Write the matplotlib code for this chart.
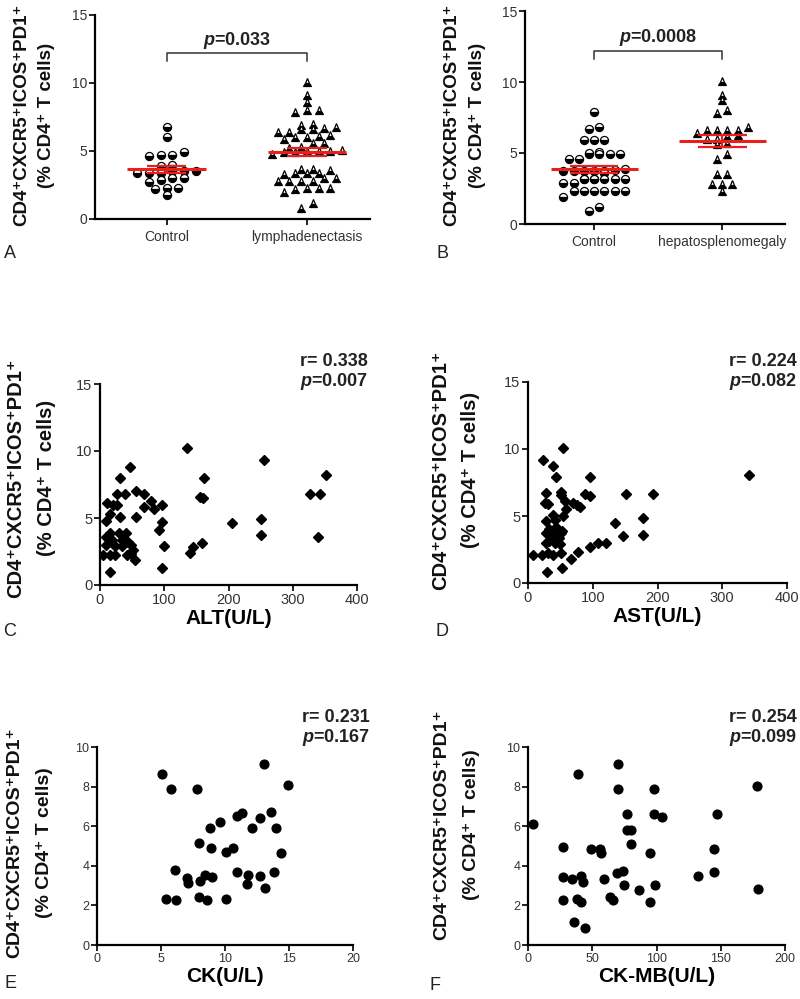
import numpy as np
import matplotlib
matplotlib.use("Agg")
import matplotlib.pyplot as plt
from matplotlib import font_manager

# ---- data ----
# A: column scatter, lymphadenectasis
ctrlA = [6.8, 6.0, 4.9, 4.7, 4.6, 4.7, 3.9, 4.0, 3.4, 3.5, 3.4, 3.5, 3.4, 3.5,
         3.0, 2.9, 3.0, 2.7, 2.3, 2.2, 2.3, 1.8]
lymphA = [10.1, 9.1, 8.6, 8.0, 7.9, 8.0, 7.0, 6.6, 6.4, 6.9, 6.7, 6.6, 6.8, 6.4,
          6.2, 6.0, 5.9, 6.0, 6.1, 5.6, 5.6, 5.3, 5.2, 5.0, 4.9, 5.0, 5.1, 5.0,
          4.9, 4.8, 3.7, 3.7, 3.6, 3.4, 3.4, 3.4, 3.3, 3.0, 3.0, 2.8, 2.8, 2.8,
          2.8, 2.3, 2.3, 2.2, 2.3, 2.0, 1.2, 0.8]
groupsA = ["Control", "lymphadenectasis"]

# B: column scatter, hepatosplenomegaly
ctrlB = [7.9, 6.7, 6.8, 5.9, 5.9, 5.9, 5.1, 4.9, 4.9, 4.9, 4.9, 5.0, 4.6, 4.6,
         3.9, 3.7, 3.7, 3.8, 3.7, 3.7, 3.6, 3.7, 3.2, 3.2, 3.2, 3.2, 3.2, 3.2,
         3.2, 2.9, 2.9, 2.3, 2.3, 2.3, 2.3, 2.3, 2.3, 1.9, 1.2, 0.9]
hepB = [10.1, 9.1, 8.7, 8.0, 7.8, 6.8, 6.6, 6.6, 6.6, 6.6, 6.4, 6.3, 6.2, 6.0,
        6.0, 5.7, 5.6, 4.9, 4.6, 3.5, 3.5, 2.8, 2.8, 2.8, 2.3]
groupsB = ["Control", "hepatosplenomegaly"]
pvalA = "0.033"
pvalB = "0.0008"

# C: ALT
altX = [135, 47, 31, 351, 255, 162, 156, 161, 327, 343, 26, 39, 56, 69, 80, 69,
        84, 97, 11, 21, 26, 56, 31, 16, 9, 96, 92, 206, 250, 250, 340, 159, 145,
        140, 100, 96, 16, 10, 16, 18, 10, 23, 5, 16, 23, 34, 40, 44, 49, 42, 49,
        55, 51, 34, 30]
altY = [10.2, 8.8, 8.0, 8.2, 9.3, 8.0, 6.6, 6.5, 6.8, 6.8, 6.8, 6.8, 7.0, 6.8,
        6.3, 5.8, 5.7, 6.0, 6.1, 6.0, 6.0, 5.1, 5.1, 5.3, 4.8, 4.7, 4.1, 4.6,
        4.95, 3.7, 3.55, 3.1, 2.8, 2.4, 2.9, 1.25, 1.0, 3.6, 3.85, 3.35, 3.0,
        2.9, 2.25, 2.25, 2.25, 3.35, 3.85, 3.2, 3.0, 2.25, 2.35, 1.9, 2.6, 2.9,
        3.9]
statC = ("0.338", "0.007")

# D: AST
astX = [341, 54, 23, 39, 44, 96, 28, 51, 51, 152, 193, 88, 96, 57, 26, 31, 69,
        75, 80, 59, 39, 54, 28, 41, 134, 177, 177, 146, 121, 108, 96, 77, 67,
        53, 30, 8, 21, 28, 33, 36, 44, 48, 53, 28, 33, 41, 49, 31, 39, 51, 39,
        44, 51]
astY = [8.06, 10.1, 9.2, 8.7, 7.9, 7.9, 6.75, 6.8, 6.6, 6.65, 6.65, 6.65, 6.5,
        6.1, 6.0, 5.9, 6.0, 5.8, 5.65, 5.5, 5.1, 5.0, 4.65, 4.7, 4.5, 4.85, 3.6,
        3.5, 3.0, 3.0, 2.7, 2.35, 1.8, 1.1, 0.8, 2.1, 2.1, 3.7, 4.0, 3.5, 3.7,
        3.35, 3.85, 3.0, 3.1, 3.0, 2.9, 2.25, 2.1, 2.25, 3.2, 4.2, 3.7]
statD = ("0.224", "0.082")

# E: CK
ckX = [5.06, 5.77, 7.84, 13.06, 14.9, 13.6, 10.9, 11.3, 12.7, 9.6, 8.8, 12.1,
       14.0, 8.0, 8.9, 10.1, 10.6, 14.4, 6.1, 10.95, 13.85, 7.0, 8.4, 8.95,
       11.8, 12.7, 7.1, 8.05, 11.7, 13.1, 5.4, 6.2, 8.0, 8.6, 10.05]
ckY = [8.65, 7.88, 7.9, 9.16, 8.1, 6.7, 6.5, 6.65, 6.4, 6.2, 5.9, 5.9, 5.9,
       5.15, 4.9, 4.7, 4.9, 4.65, 3.8, 3.7, 3.7, 3.4, 3.55, 3.45, 3.55, 3.5,
       3.15, 3.25, 3.1, 2.9, 2.3, 2.25, 2.4, 2.25, 2.3]
statE = ("0.231", "0.167")

# F: CK-MB
ckmbX = [3.9, 27, 27, 34, 27, 38, 41, 41, 43, 36, 44, 39, 49, 56, 57, 59, 64,
         66, 70, 70, 69, 74, 75, 77, 77, 80, 80, 86, 95, 95, 98, 98, 99, 104,
         132, 145, 145, 147, 178, 179]
ckmbY = [6.13, 4.96, 3.45, 3.35, 2.27, 2.3, 2.17, 3.47, 3.18, 1.16, 0.87, 8.66,
         4.86, 4.86, 4.66, 3.35, 2.4, 2.27, 9.16, 7.88, 3.65, 3.73, 3.03, 6.64,
         5.83, 5.83, 5.08, 2.77, 4.66, 2.17, 7.88, 6.64, 3.03, 6.47, 3.48, 4.86,
         3.68, 6.64, 8.05, 2.84]
statF = ("0.254", "0.099")

line1 = "CD4\u207aCXCR5\u207aICOS\u207aPD1\u207a"
line2 = "(% CD4\u207a T cells)"

names = {f.name for f in font_manager.fontManager.ttflist}
narrow = "Liberation Sans Narrow" if "Liberation Sans Narrow" in names else "Liberation Sans"
plt.rcParams["font.family"] = ["Liberation Sans", "DejaVu Sans"]
plt.rcParams["mathtext.fontset"] = "custom"
plt.rcParams["mathtext.bfit"] = "Liberation Sans:italic:bold"

W, H = 800, 999
fig = plt.figure(figsize=(8, 9.99), dpi=100)


def ax_at(l, r, t, b):
    # pixel box -> figure fraction
    return fig.add_axes([l / W, 1 - b / H, (r - l) / W, (b - t) / H])


def style(ax, tick_size, tick_font):
    for s in ["top", "right"]:
        ax.spines[s].set_visible(False)
    for s in ["left", "bottom"]:
        ax.spines[s].set_linewidth(1.6)
    ax.tick_params(direction="out", length=4, width=1.3, colors="#111",
                   labelsize=tick_size, pad=1.5)
    for lab in ax.get_xticklabels() + ax.get_yticklabels():
        lab.set_family([tick_font, "DejaVu Sans"])
        lab.set_color("#333")


def swarm(vals, row=0.4, dx=0.085, cap=7):
    # greedy rows: points within `row` of the row's first value share a row
    v = np.asarray(vals, float)
    order = np.argsort(v)
    off = np.zeros(len(v))
    start, members = None, []
    for i in list(order) + [None]:
        full = len(members) >= cap
        if i is None or (start is not None and (v[i] - start >= row or full)):
            n = len(members)
            for k, j in enumerate(members):
                off[j] = (k - (n - 1) / 2) * dx
            members = []
            start = None
        if i is not None:
            if start is None:
                start = v[i]
            members.append(i)
    return off


def column_panel(box, data, groups, pval, xlim, dx, meanw, semw):
    ax = ax_at(*box)
    marks = ["o", "^"]
    for i, vals in enumerate(data):
        pos = i + 1
        xs = pos + swarm(vals, dx=dx)
        ax.plot(xs, vals, ls="none", marker=marks[i], ms=5.8, fillstyle="bottom",
                mfc="black", mfcalt="white", mec="black", mew=0.9, zorder=2)
        m = np.mean(vals)
        se = np.std(vals, ddof=1) / np.sqrt(len(vals))
        ax.hlines(m, pos - meanw, pos + meanw, color="#e8201c", lw=2.2, zorder=3)
        ax.hlines([m - se, m + se], pos - semw, pos + semw, color="#e8201c", lw=1.6, zorder=3)
        ax.vlines(pos, m - se, m + se, color="#e8201c", lw=1.6, zorder=3)
    # significance bracket
    ax.plot([1, 1, 2, 2], [11.6, 12.2, 12.2, 11.6], color="#333", lw=1.1)
    ax.text(1.5, 13.1, r"$\mathbfit{p}$=" + pval, ha="center", va="center",
            fontsize=13, fontweight="bold", color="#222")
    ax.set_xlim(*xlim)
    ax.set_ylim(0, 15)
    ax.set_yticks([0, 5, 10, 15])
    ax.set_xticks([1, 2])
    ax.set_xticklabels(groups)
    style(ax, 10, narrow)
    ax.tick_params(axis="x", pad=4)
    return ax


def scatter_panel(box, x, y, xlim, xticks, ylim, yticks, xlabel, stat, marker,
                  ms, tick_size, stat_xy):
    ax = ax_at(*box)
    ax.plot(x, y, ls="none", marker=marker, ms=ms, color="black", zorder=2)
    ax.set_xlim(*xlim)
    ax.set_ylim(*ylim)
    ax.set_xticks(xticks)
    ax.set_yticks(yticks)
    ax.set_xlabel(xlabel, fontsize=15, fontweight="bold", labelpad=2)
    style(ax, tick_size, narrow)
    sx, sy = stat_xy
    fig.text(sx / W, 1 - sy / H, "r= " + stat[0], ha="right", va="center",
             fontsize=13, fontweight="bold", color="#222")
    fig.text(sx / W, 1 - (sy + 20) / H, r"$\mathbfit{p}$=" + stat[1], ha="right",
             va="center", fontsize=13, fontweight="bold", color="#222")
    return ax


def ylab(x1, x2, yc, size):
    fig.text(x1 / W, 1 - yc / H, line1, rotation=90, ha="center", va="center",
             fontsize=size, fontweight="bold", color="#111")
    fig.text(x2 / W, 1 - yc / H, line2, rotation=90, ha="center", va="center",
             fontsize=size, fontweight="bold", color="#111")


column_panel((95, 370, 15, 219), [ctrlA, lymphA], groupsA, pvalA,
             (0.49, 2.45), 0.083, 0.28, 0.14)
column_panel((525, 785, 11, 224), [ctrlB, hepB], groupsB, pvalB,
             (0.46, 2.49), 0.08, 0.34, 0.19)

scatter_panel((100, 357, 384, 585), altX, altY, (0, 400), [0, 100, 200, 300, 400],
              (0, 15), [0, 5, 10, 15], "ALT(U/L)", statC, "D", 5, 10.5, (368, 362))
scatter_panel((528, 787, 382, 583), astX, astY, (0, 400), [0, 100, 200, 300, 400],
              (0, 15), [0, 5, 10, 15], "AST(U/L)", statD, "D", 5, 10.5, (797, 361))
scatter_panel((97, 353, 747, 945), ckX, ckY, (0, 20), [0, 5, 10, 15, 20],
              (0, 10), [0, 2, 4, 6, 8, 10], "CK(U/L)", statE, "o", 6.3, 9, (370, 717))
scatter_panel((528, 785, 747, 945), ckmbX, ckmbY, (0, 200), [0, 50, 100, 150, 200],
              (0, 10), [0, 2, 4, 6, 8, 10], "CK-MB(U/L)", statF, "o", 6.3, 9, (797, 717))

ylab(22, 47, 115, 13.5)
ylab(452, 478, 115, 13.5)
ylab(16, 47, 478, 14.5)
ylab(441, 470, 470, 14.5)
ylab(15, 45, 843, 14)
ylab(442, 471, 825, 14)

for letter, (lx, ly) in {"A": (10, 253), "B": (442, 253), "C": (10, 632),
                         "D": (442, 632), "E": (10, 984), "F": (435, 985)}.items():
    fig.text(lx / W, 1 - ly / H, letter, ha="center", va="center", fontsize=13,
             color="#222")

fig.savefig("out.png", dpi=100)
